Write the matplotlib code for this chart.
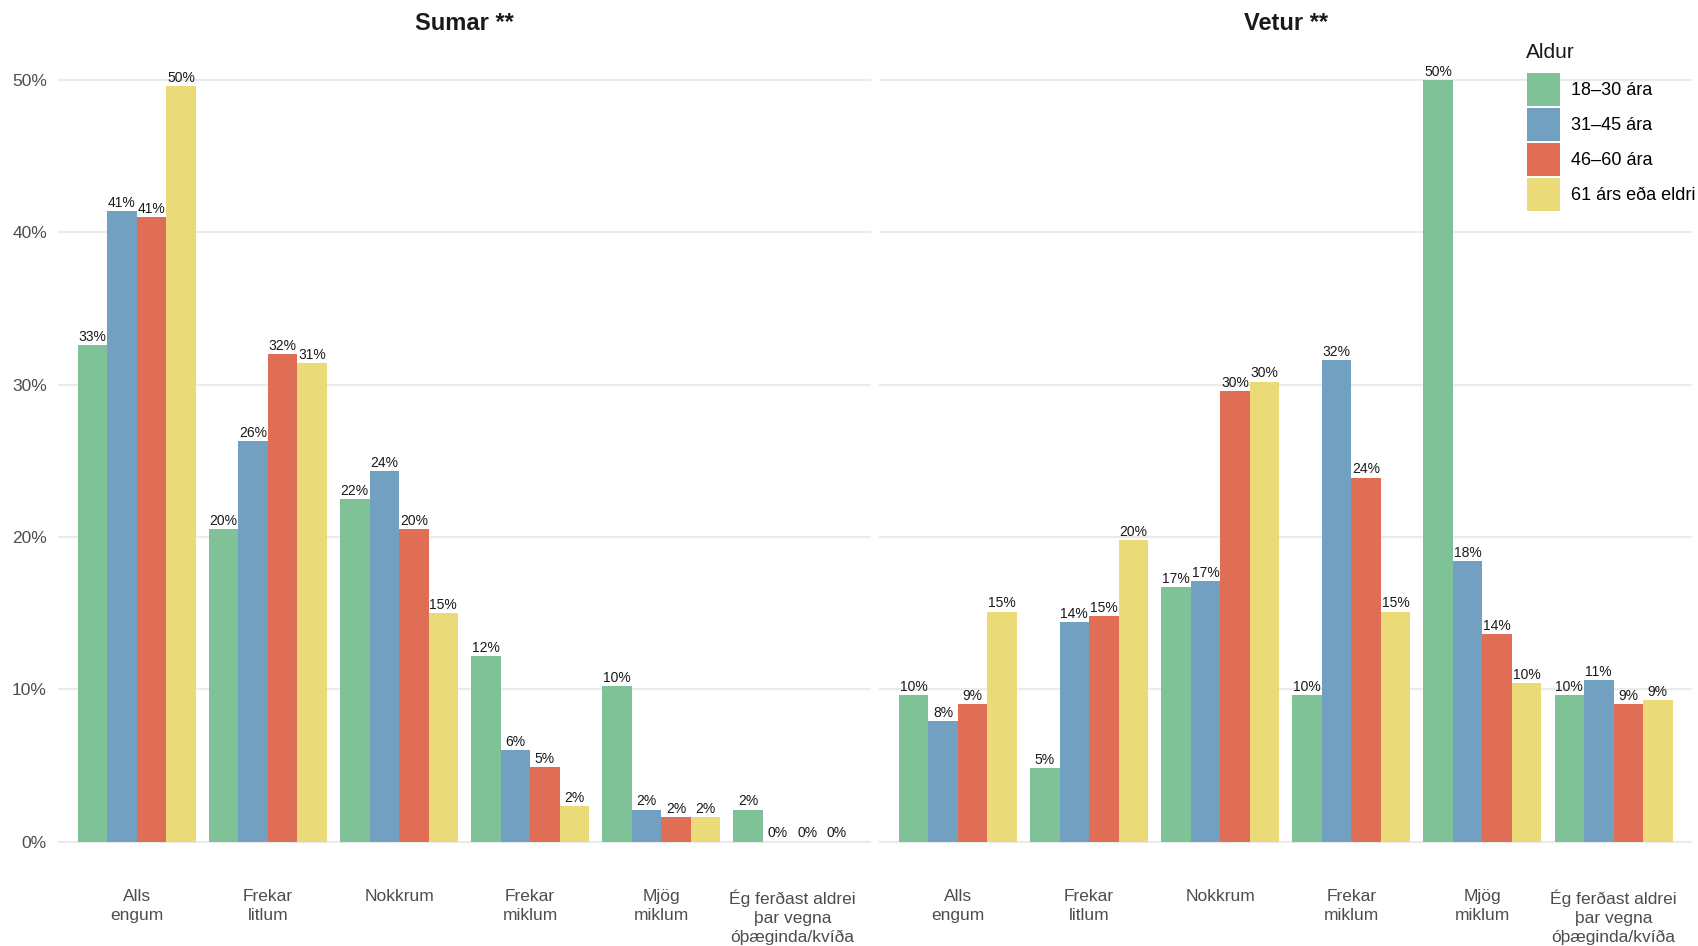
import matplotlib
matplotlib.use("Agg")
import matplotlib.pyplot as plt
from matplotlib.patches import Patch
import numpy as np

plt.rcParams['font.family'] = ['Liberation Sans', 'DejaVu Sans']

# flokkar og hópar
flokkar = ['Alls\nengum', 'Frekar\nlitlum', 'Nokkrum', 'Frekar\nmiklum', 'Mjög\nmiklum',
           'Ég ferðast aldrei\nþar vegna\nóþæginda/kvíða']
aldur = ['18–30 ára', '31–45 ára', '46–60 ára', '61 árs eða eldri']
litir = ['#7FC297', '#72A0C1', '#E06E57', '#EBDB78']

# hlutföll í % (lesin af myndinni), ein röð fyrir hvern aldurshóp
sumar_18_30 = [32.6, 20.5, 22.5, 12.2, 10.2, 2.1]
sumar_31_45 = [41.4, 26.3, 24.3, 6.0, 2.1, 0.0]
sumar_46_60 = [41.0, 32.0, 20.5, 4.9, 1.6, 0.0]
sumar_61 = [49.6, 31.4, 15.0, 2.3, 1.6, 0.0]

vetur_18_30 = [9.6, 4.8, 16.7, 9.6, 50.0, 9.6]
vetur_31_45 = [7.9, 14.4, 17.1, 31.6, 18.4, 10.6]
vetur_46_60 = [9.0, 14.8, 29.6, 23.9, 13.6, 9.0]
vetur_61 = [15.1, 19.8, 30.2, 15.1, 10.4, 9.3]

sumar = [sumar_18_30, sumar_31_45, sumar_46_60, sumar_61]
vetur = [vetur_18_30, vetur_31_45, vetur_46_60, vetur_61]

fig = plt.figure(figsize=(16.98, 9.46), dpi=100)
ax1 = fig.add_axes([0.0342, 0.0702, 0.4788, 0.8854])
ax2 = fig.add_axes([0.5178, 0.0702, 0.4788, 0.8854])

x = np.arange(1, len(flokkar) + 1)
breidd = 0.225

for ax, gogn, titill in [(ax1, sumar, 'Sumar **'), (ax2, vetur, 'Vetur **')]:
    for i, rod in enumerate(gogn):
        pos = x + (i - 1.5) * breidd
        ax.bar(pos, rod, width=breidd, color=litir[i], linewidth=0, zorder=2)
        for px, v in zip(pos, rod):
            ax.annotate(f'{v:.0f}%', (px, v), xytext=(0, 3), textcoords='offset points',
                        ha='center', va='baseline', fontsize=10, color='#1A1A1A', zorder=3)
    ax.set_xlim(0.4, 6.6)
    ax.set_ylim(-2.5, 52.5)
    ax.set_yticks([0, 10, 20, 30, 40, 50])
    ax.set_yticklabels(['0%', '10%', '20%', '30%', '40%', '50%'])
    ax.set_xticks(x)
    ax.set_xticklabels(flokkar, fontsize=12.5, color='#4D4D4D', linespacing=1.32)
    ax.tick_params(axis='both', length=0, labelsize=12.5, labelcolor='#4D4D4D')
    ax.tick_params(axis='x', pad=7)
    ax.tick_params(axis='y', pad=8)
    ax.grid(axis='y', color='#EBEBEB', linewidth=1.6, zorder=0)
    ax.set_axisbelow(True)
    for s in ax.spines.values():
        s.set_visible(False)
    # titill faceta
    pos_ax = ax.get_position()
    fig.text((pos_ax.x0 + pos_ax.x1) / 2, 1 - 24 / 946, titill, ha='center', va='center',
             fontsize=17, fontweight='bold', color='#1A1A1A')

ax2.tick_params(axis='y', labelleft=False)

# skýringar
fig.text(1526 / 1698, 1 - 52 / 946, 'Aldur', ha='left', va='center', fontsize=15,
         color='#1A1A1A')
handles = [Patch(facecolor=c, edgecolor='none') for c in litir]
leg = fig.legend(handles, aldur, loc='upper left', bbox_to_anchor=(1527 / 1698, 1 - 73 / 946),
                 frameon=False, fontsize=13,
                 handlelength=1.8, handleheight=2.45, labelspacing=0.1,
                 handletextpad=0.65, borderpad=0, borderaxespad=0)

fig.savefig('out.png', dpi=100)
